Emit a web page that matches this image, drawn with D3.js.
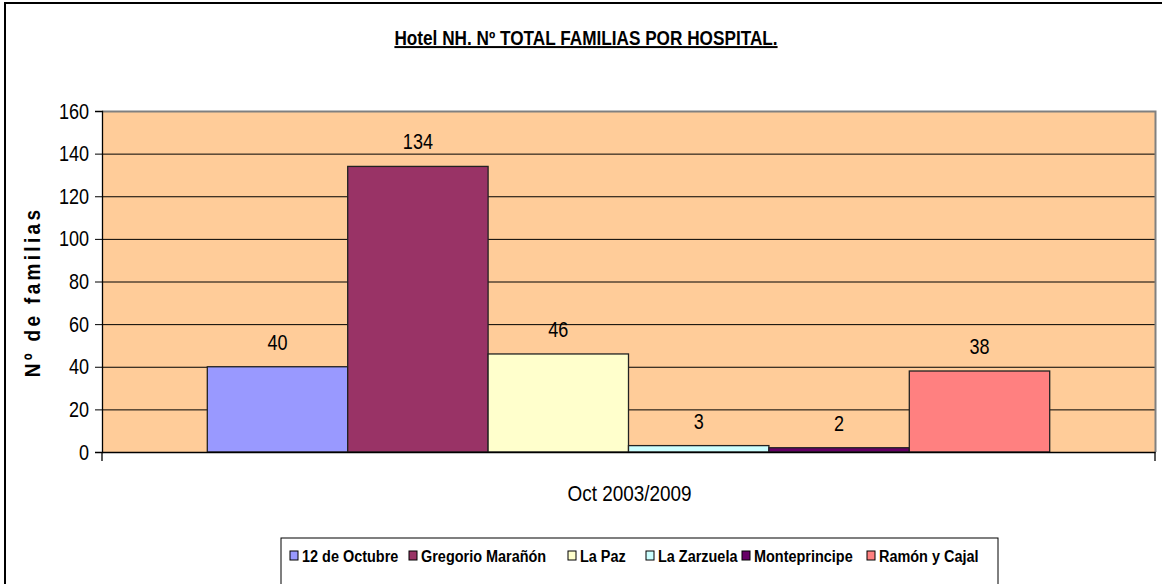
<!DOCTYPE html>
<html>
<head>
<meta charset="utf-8">
<script src="https://cdn.jsdelivr.net/npm/d3@7"></script>
<style>
  body { margin: 0; background: #fff; }
  svg text { font-family: "Liberation Sans", Arial, sans-serif; }
</style>
</head>
<body>
<svg id="chart" width="1162" height="584"></svg>
<script>
var hospitals = ['12 de Octubre', 'Gregorio Marañón', 'La Paz', 'La Zarzuela', 'Monteprincipe', 'Ramón y Cajal'];
var families = [40, 134, 46, 3, 2, 38];
var colors = ['#9999FF', '#993366', '#FFFFCC', '#CCFFFF', '#660066', '#FF8080'];
var period = ['Oct 2003/2009'];
var yTicks = [0, 20, 40, 60, 80, 100, 120, 140, 160];

var svg = d3.select('#chart');
var plot = { left: 102, top: 111, right: 1155, bottom: 452 };

// letra estrecha (tipo Arial Narrow) escalando en horizontal
function narrow(sel, sx) {
  sel.each(function(){
    var t = d3.select(this);
    var x = +t.attr('x') || 0, y = +t.attr('y') || 0;
    t.attr('transform', 'translate(' + x + ',' + y + ') scale(' + sx + ',1)')
      .attr('x', 0).attr('y', 0);
  });
}

// marco exterior
svg.append('rect')
  .attr('x', 5).attr('y', 3).attr('width', 1170).attr('height', 600)
  .attr('fill', '#fff').attr('stroke', '#000').attr('stroke-width', 2);

var y = d3.scaleLinear().domain([0, 160]).range([plot.bottom, plot.top]);
var x0 = d3.scaleBand().domain(period).range([plot.left, plot.right]).paddingInner(0).paddingOuter(0.125);
var x1 = d3.scaleBand().domain(hospitals).range([0, x0.bandwidth()]);

// fondo
svg.append('rect')
  .attr('x', plot.left).attr('y', plot.top)
  .attr('width', plot.right - plot.left).attr('height', plot.bottom - plot.top)
  .attr('fill', '#FFCC99');

// rejilla
svg.append('g').selectAll('line')
  .data(yTicks.filter(function(d){ return d > 0 && d < 160; }))
  .enter().append('line')
  .attr('x1', plot.left).attr('x2', plot.right)
  .attr('y1', function(d){ return y(d) + 0.5; }).attr('y2', function(d){ return y(d) + 0.5; })
  .attr('stroke', '#000').attr('stroke-width', 1);

// borde superior y derecho gris
svg.append('path')
  .attr('d', 'M' + plot.left + ',' + (plot.top + 0.5) + 'H' + (plot.right + 0.5) + 'V' + plot.bottom)
  .attr('fill', 'none').attr('stroke', '#808080').attr('stroke-width', 2);

var data = hospitals.map(function(h, i){ return { name: h, value: families[i], color: colors[i] }; });

var g = svg.append('g').attr('transform', 'translate(' + x0(period[0]) + ',0)');

g.selectAll('rect')
  .data(data)
  .enter().append('rect')
  .attr('x', function(d){ return x1(d.name); })
  .attr('y', function(d){ return y(d.value); })
  .attr('width', x1.bandwidth())
  .attr('height', function(d){ return plot.bottom - y(d.value); })
  .attr('fill', function(d){ return d.color; })
  .attr('stroke', '#222').attr('stroke-width', 1.3);

g.selectAll('text')
  .data(data)
  .enter().append('text')
  .attr('x', function(d){ return x1(d.name) + x1.bandwidth() / 2; })
  .attr('y', function(d){ return y(d.value) - 17; })
  .attr('text-anchor', 'middle')
  .attr('font-size', '22px')
  .text(function(d){ return d.value; })
  .call(narrow, 0.82);

// eje Y
var yAxis = svg.append('g')
  .attr('transform', 'translate(' + plot.left + ',0)')
  .call(d3.axisLeft(y).tickValues(yTicks).tickSize(7).tickPadding(6));
yAxis.select('.domain').attr('stroke', '#000').attr('stroke-width', 1.3);
yAxis.selectAll('.tick line').attr('stroke', '#000');
yAxis.selectAll('.tick text')
  .attr('font-size', '22px').attr('fill', '#000')
  .style('font-family', '"Liberation Sans", Arial, sans-serif')
  .call(narrow, 0.82);

// eje X
var xAxis = svg.append('g')
  .attr('transform', 'translate(0,' + plot.bottom + ')')
  .call(d3.axisBottom(x0).tickSize(0).tickFormat(''));
xAxis.select('.domain').attr('stroke', '#000').attr('stroke-width', 1.3);
svg.append('g').selectAll('line')
  .data([plot.left, plot.right])
  .enter().append('line')
  .attr('x1', function(d){ return d; }).attr('x2', function(d){ return d; })
  .attr('y1', plot.bottom).attr('y2', plot.bottom + 9)
  .attr('stroke', '#000').attr('stroke-width', 1.3);

svg.append('text')
  .attr('x', x0(period[0]) + x0.bandwidth() / 2 + 1)
  .attr('y', 501)
  .attr('text-anchor', 'middle')
  .attr('font-size', '22px')
  .text(period[0])
  .call(narrow, 0.86);

// titulo
svg.append('text')
  .attr('x', 586).attr('y', 45)
  .attr('text-anchor', 'middle')
  .attr('font-size', '20px').attr('font-weight', 'bold')
  .attr('text-decoration', 'underline')
  .text('Hotel NH. Nº TOTAL FAMILIAS POR HOSPITAL.')
  .call(narrow, 0.86);

// titulo eje Y
svg.append('text')
  .attr('transform', 'translate(40,292) rotate(-90) scale(0.95,1.1)')
  .attr('text-anchor', 'middle')
  .attr('font-size', '20px').attr('font-weight', 'bold')
  .attr('letter-spacing', '3.5px')
  .text('Nº de familias');

// leyenda
svg.append('rect')
  .attr('x', 281).attr('y', 538).attr('width', 717).attr('height', 60)
  .attr('fill', '#fff').attr('stroke', '#000').attr('stroke-width', 1);

var legendX = [290, 409, 568, 646, 742, 867];
var leg = svg.append('g').selectAll('g')
  .data(data)
  .enter().append('g')
  .attr('transform', function(d, i){ return 'translate(' + legendX[i] + ',556)'; });
leg.append('rect')
  .attr('x', 0).attr('y', -5).attr('width', 8).attr('height', 9)
  .attr('fill', function(d){ return d.color; })
  .attr('stroke', '#000').attr('stroke-width', 1);
leg.append('text')
  .attr('x', 12).attr('y', 6)
  .attr('font-size', '17px').attr('font-weight', 'bold')
  .text(function(d){ return d.name; })
  .call(narrow, 0.85);
</script>
</body>
</html>
